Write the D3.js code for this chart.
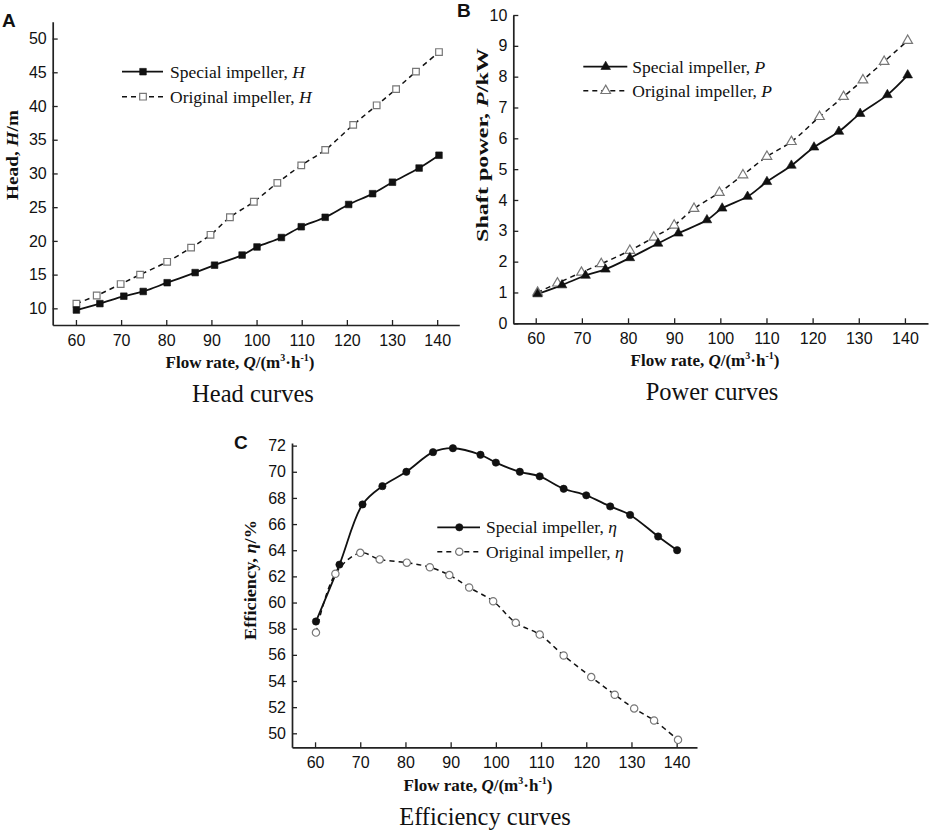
<!DOCTYPE html>
<html><head><meta charset="utf-8">
<script src="https://cdn.jsdelivr.net/npm/d3@7/dist/d3.min.js"></script>
<style>
body{margin:0;background:#fff;}
svg{display:block;}
</style></head>
<body>
<svg id="chart" width="934" height="833"></svg>
<script>
// ---------- DATA ----------
const xTicks = [60,70,80,90,100,110,120,130,140];
const headTicks = [10,15,20,25,30,35,40,45,50];
const powerTicks = [0,1,2,3,4,5,6,7,8,9,10];
const effTicks = [50,52,54,56,58,60,62,64,66,68,70,72];

const headSpecialQ = [60.1,65.3,70.6,74.9,80.2,86.4,90.7,96.8,100.1,105.5,109.9,115.2,120.4,125.7,130.1,136.0,140.4];
const headSpecial  = [9.75,10.7,11.8,12.5,13.8,15.3,16.4,17.9,19.1,20.5,22.1,23.5,25.4,27.0,28.7,30.8,32.7];
const headOriginalQ = [60.1,64.6,69.9,74.2,80.2,85.5,89.8,94.1,99.4,104.6,109.9,115.2,121.4,126.6,130.9,135.3,140.4];
const headOriginal  = [10.7,11.9,13.6,15.0,16.9,19.0,20.9,23.5,25.8,28.6,31.2,33.5,37.2,40.1,42.5,45.1,48.0];

const powerSpecialQ = [60.4,65.7,70.8,75.1,80.4,86.5,90.9,97.1,100.4,105.9,110.1,115.4,120.3,125.7,130.3,136.2,140.6];
const powerSpecial  = [0.95,1.24,1.55,1.75,2.12,2.59,2.92,3.35,3.73,4.11,4.59,5.12,5.71,6.22,6.80,7.41,8.05];
const powerOriginalQ = [60.4,64.7,69.9,74.2,80.4,85.6,90.0,94.3,99.8,104.9,110.1,115.4,121.5,126.7,130.9,135.5,140.6];
const powerOriginal  = [1.0,1.30,1.65,1.93,2.36,2.79,3.18,3.72,4.24,4.81,5.41,5.89,6.70,7.35,7.89,8.49,9.17];

const effSpecialQ = [60.2,65.4,70.5,74.9,80.2,86.1,90.5,96.6,100.0,105.3,109.7,115.0,120.0,125.3,129.7,135.9,140.1];
const effSpecial  = [58.55,62.9,67.5,68.9,70.0,71.5,71.8,71.3,70.7,70.0,69.65,68.7,68.2,67.35,66.7,65.05,64.0];
const effOriginalQ = [60.2,64.5,70.0,74.3,80.3,85.4,89.7,94.1,99.4,104.4,109.7,115.0,121.1,126.3,130.6,135.0,140.3];
const effOriginal  = [57.7,62.2,63.8,63.3,63.05,62.7,62.1,61.15,60.1,58.45,57.55,55.95,54.3,52.95,51.9,50.98,49.5];

const legendSpecial = "Special impeller, ";
const legendOriginal = "Original impeller, ";

// ---------- DRAW ----------
const svg = d3.select("#chart");
const sansFont = "'Liberation Sans', Arial, sans-serif";
const serifFont = "'Liberation Serif', 'Times New Roman', serif";

function xTitle(g, cx, y) {
  const t = g.append("text").attr("x", cx).attr("y", y).attr("text-anchor","middle")
    .attr("font-family", serifFont).attr("font-weight","bold").attr("font-size", 17).attr("fill","#111");
  t.append("tspan").text("Flow rate, ");
  t.append("tspan").attr("font-style","italic").text("Q");
  t.append("tspan").text("/(m");
  t.append("tspan").attr("font-size",10).attr("dy",-7).text("3");
  t.append("tspan").attr("dy",7).text("·h");
  t.append("tspan").attr("font-size",10).attr("dy",-7).text("-1");
  t.append("tspan").attr("dy",7).text(")");
}

function yTitle(g, x, cy, pre, sym, post, len) {
  const t = g.append("text").attr("transform", `translate(${x},${cy}) rotate(-90)`).attr("text-anchor","middle")
    .attr("font-family", serifFont).attr("font-weight","bold").attr("font-size", 17.5).attr("fill","#111")
    .attr("textLength", len).attr("lengthAdjust","spacingAndGlyphs");
  t.append("tspan").text(pre);
  t.append("tspan").attr("font-style","italic").text(sym);
  t.append("tspan").text(post);
}

function markerPath(shape, size) {
  const s = d3.symbol().type(shape === "square" ? d3.symbolSquare : shape === "triangle" ? d3.symbolTriangle : d3.symbolCircle).size(size);
  return s();
}

function panel(cfg) {
  const g = svg.append("g");
  const x = d3.scaleLinear().domain(cfg.xDomain).range([cfg.left, cfg.right]);
  const y = d3.scaleLinear().domain(cfg.yDomain).range([cfg.bottom, cfg.top]);

  // axes (ticks inward)
  const xa = g.append("g").attr("transform", `translate(0,${cfg.bottom})`)
    .call(d3.axisBottom(x).tickValues(xTicks).tickSizeInner(-5).tickSizeOuter(0).tickPadding(12));
  const ya = g.append("g").attr("transform", `translate(${cfg.left},0)`)
    .call(d3.axisLeft(y).tickValues(cfg.yTicks).tickSizeInner(-5).tickSizeOuter(0).tickPadding(6));
  [xa, ya].forEach(a => {
    a.select(".domain").attr("stroke","#222").attr("stroke-width",1.7);
    a.selectAll(".tick line").attr("stroke","#222").attr("stroke-width",1.3);
    a.selectAll(".tick text").attr("font-family", sansFont).attr("font-size",16).attr("fill","#111");
  });
  xa.selectAll(".tick text").attr("dy","0.55em");

  const line = d3.line().x(d => x(d[0])).y(d => y(d[1])).curve(d3.curveCatmullRom.alpha(0.5));
  const orig = cfg.origQ.map((q,i) => [q, cfg.orig[i]]);
  const spec = cfg.specQ.map((q,i) => [q, cfg.spec[i]]);

  g.append("path").datum(orig).attr("d", line).attr("fill","none").attr("stroke","#111")
    .attr("stroke-width",1.5).attr("stroke-dasharray","5,4");
  g.append("path").datum(spec).attr("d", line).attr("fill","none").attr("stroke","#111").attr("stroke-width",1.8);

  const mp = markerPath(cfg.shape, cfg.msize);
  g.selectAll(".mo").data(orig).enter().append("path").attr("d", mp)
    .attr("transform", d => `translate(${x(d[0])},${y(d[1])})`)
    .attr("fill","#fff").attr("stroke","#777").attr("stroke-width",1.2);
  g.selectAll(".ms").data(spec).enter().append("path").attr("d", mp)
    .attr("transform", d => `translate(${x(d[0])},${y(d[1])})`)
    .attr("fill","#111").attr("stroke","#111").attr("stroke-width",0.6);

  // legend
  const L = cfg.legend;
  [[L.y1, false, legendSpecial], [L.y2, true, legendOriginal]].forEach(([ly, dashed, label]) => {
    g.append("line").attr("x1", L.x1).attr("x2", L.x2).attr("y1", ly).attr("y2", ly)
      .attr("stroke","#111").attr("stroke-width", dashed ? 1.5 : 1.8)
      .attr("stroke-dasharray", dashed ? "5,4" : null);
    g.append("path").attr("d", mp).attr("transform", `translate(${L.xm},${ly})`)
      .attr("fill", dashed ? "#fff" : "#111").attr("stroke", dashed ? "#777" : "#111")
      .attr("stroke-width", dashed ? 1.2 : 0.6);
    const t = g.append("text").attr("x", L.xt).attr("y", ly + 6).attr("font-family", serifFont)
      .attr("font-size", 17.5).attr("fill","#111");
    t.append("tspan").text(label);
    t.append("tspan").attr("font-style","italic").text(cfg.sym);
  });

  // titles
  xTitle(g, cfg.xTitleX, cfg.xTitleY);
  yTitle(g, cfg.yTitleX, cfg.yTitleY, cfg.yPre, cfg.sym, cfg.yPost, cfg.yTitleLen);
  g.append("text").attr("x", cfg.capX).attr("y", cfg.capY).attr("text-anchor","middle")
    .attr("font-family", serifFont).attr("font-size", 24.5).attr("fill","#111").text(cfg.caption);
  g.append("text").attr("x", cfg.letterX).attr("y", cfg.letterY)
    .attr("font-family", sansFont).attr("font-weight","bold").attr("font-size", 19).attr("fill","#111").text(cfg.letter);
}

panel({
  left: 52.7, right: 459.3, top: 21.7, bottom: 325,
  xDomain: [54.85, 144.9], yDomain: [7.53, 52.5], yTicks: headTicks,
  specQ: headSpecialQ, spec: headSpecial, origQ: headOriginalQ, orig: headOriginal,
  shape: "square", msize: 44, sym: "H",
  legend: {x1: 122, x2: 163, xm: 143, xt: 170, y1: 71.7, y2: 96.7},
  xTitleX: 240, xTitleY: 368, yTitleX: 18, yTitleY: 155, yTitleLen: 90, yPre: "Head, ", yPost: "/m",
  caption: "Head curves", capX: 253, capY: 402, letter: "A", letterX: 2, letterY: 27
});

panel({
  left: 513.3, right: 928, top: 15, bottom: 323.3,
  xDomain: [55.14, 145], yDomain: [0, 10], yTicks: powerTicks,
  specQ: powerSpecialQ, spec: powerSpecial, origQ: powerOriginalQ, orig: powerOriginal,
  shape: "triangle", msize: 40, sym: "P",
  legend: {x1: 583.3, x2: 627.3, xm: 605.7, xt: 632.3, y1: 66.7, y2: 90.7},
  xTitleX: 705, xTitleY: 366, yTitleX: 488, yTitleY: 145, yTitleLen: 194, yPre: "Shaft power, ", yPost: "/kW",
  caption: "Power curves", capX: 712, capY: 400, letter: "B", letterX: 457, letterY: 17
});

panel({
  left: 292, right: 697, top: 443, bottom: 747.3,
  xDomain: [54.9, 144.5], yDomain: [48.93, 72.2], yTicks: effTicks,
  specQ: effSpecialQ, spec: effSpecial, origQ: effOriginalQ, orig: effOriginal,
  shape: "circle", msize: 42, sym: "η",
  legend: {x1: 437.3, x2: 480, xm: 459.3, xt: 486, y1: 527.3, y2: 551.7},
  xTitleX: 478, xTitleY: 791, yTitleX: 256, yTitleY: 580, yTitleLen: 120, yPre: "Efficiency, ", yPost: "/%",
  caption: "Efficiency curves", capX: 485, capY: 825, letter: "C", letterX: 234, letterY: 449
});
</script>
</body></html>
